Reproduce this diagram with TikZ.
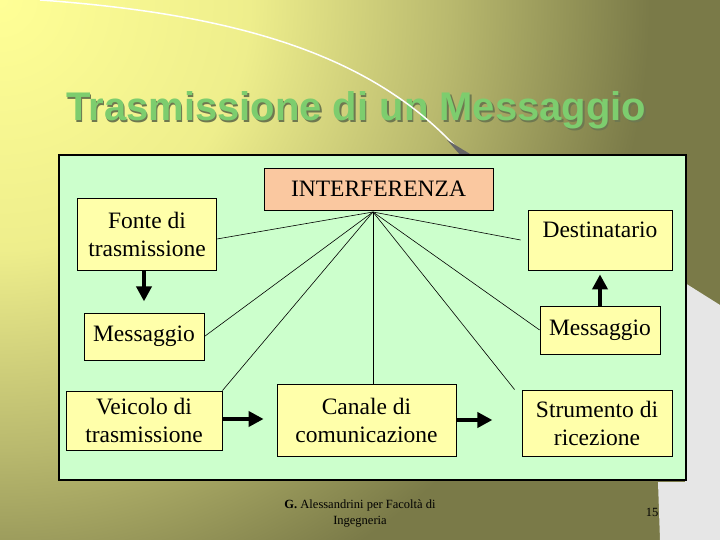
\documentclass[tikz,border=0pt]{standalone}
\usepackage{fontspec}
\setmainfont{Liberation Serif}
\newfontfamily\titlefont{Liberation Sans}
\usetikzlibrary{arrows.meta,calc}
\definecolor{bgA}{RGB}{255,255,150}
\definecolor{bgB}{RGB}{238,238,140}
\definecolor{bgC}{RGB}{185,185,110}
\definecolor{bgD}{RGB}{122,122,72}
\definecolor{panelG}{RGB}{204,255,204}
\definecolor{boxY}{RGB}{255,255,170}
\definecolor{peach}{RGB}{250,200,160}
\definecolor{titleG}{RGB}{125,205,110}
\definecolor{titleS}{RGB}{110,120,80}
\definecolor{sideG}{RGB}{230,230,230}
\pgfdeclareradialshading{bgshade}{\pgfpoint{0bp}{0bp}}{color(0bp)=(bgA); color(6.25bp)=(bgB); color(11.25bp)=(bgC); color(16.25bp)=(bgD); color(50bp)=(bgD)}
\tikzset{
  box/.style={draw=black, line width=0.8pt, fill=boxY, align=center, inner sep=0pt,
    font=\fontsize{23.5}{28}\selectfont},
  link/.style={draw=black, line width=0.6pt},
  bigarrow/.style={draw=black, line width=4pt, -{Triangle[length=15pt,width=15pt]}}
}
\begin{document}
\begin{tikzpicture}[x=1pt,y=-1pt]
\useasboundingbox (0,0) rectangle (720,540);
\begin{scope}
  \clip (0,0) rectangle (720,540);
  \shade[shading=bgshade] (0,0) circle (1000pt);
\end{scope}
% grey side region
\fill[sideG] (685,283) -- (720,305) -- (720,540) -- (660,540) -- (658,482) -- (685,482) -- cycle;
% title
\node[anchor=base west, inner sep=0pt, text=titleS, font=\titlefont\bfseries\fontsize{40}{44}\selectfont] (titleshadow) at (67.5,122.5) {Trasmissione di un Messaggio};
\node[anchor=base west, inner sep=0pt, text=titleG, font=\titlefont\bfseries\fontsize{40}{44}\selectfont] (title) at (66,121) {Trasmissione di un Messaggio};
% arc
\draw[white, line width=1.5pt] (40,0) .. controls (250,15) and (380,60) .. (463,155);
\fill[gray!80!black] (447,140) -- (475,157) -- (462,157) -- cycle;
% panel
\node[draw=black, line width=1.2pt, fill=panelG, minimum width=627pt, minimum height=325pt, inner sep=0pt] (panel) at (372.5,317.5) {};
% boxes
\node[box, fill=peach, minimum width=229pt, minimum height=42pt] (interf) at (378.5,189) {INTERFERENZA};
\node[box, minimum width=139pt, minimum height=72pt] (fonte) at (147,234) {Fonte di\\trasmissione};
\node[box, minimum width=144pt, minimum height=60pt] (dest) at (600,240) {Destinatario\\[-16pt]\strut};
\node[box, minimum width=120pt, minimum height=47pt] (msgL) at (144,336.5) {Messaggio};
\node[box, minimum width=120pt, minimum height=48pt] (msgR) at (600,330) {Messaggio};
\node[box, minimum width=156pt, minimum height=59pt] (veic) at (144,420.5) {Veicolo di\\trasmissione};
\node[box, minimum width=179pt, minimum height=72pt] (canale) at (366.5,420) {Canale di\\comunicazione};
\node[box, minimum width=150pt, minimum height=66pt] (strum) at (597,423) {Strumento di\\ricezione};
% hub and links
\coordinate (hub) at (373,212);
\draw[link] (hub) -- ($(fonte.east)+(0,5)$);
\draw[link] (hub) -- ($(dest.west)+(-7,0)$);
\draw[link] (hub) -- (msgL.east);
\draw[link] (hub) -- (msgR.west);
\draw[link] (hub) -- (veic.north east);
\draw[link] (hub) -- (hub |- canale.north);
\draw[link] (hub) -- ($(strum.north west)+(-7,0)$);
% arrows
\coordinate (fontetip) at ($(fonte.south)+(-3,31)$);
\draw[bigarrow] (fonte.south -| fontetip) -- (fontetip);
\coordinate (desttip) at ($(dest.south)+(0,4)$);
\draw[bigarrow] (msgR.north) -- (desttip);
\coordinate (canaletip) at ($(canale.west)+(-13,-1)$);
\draw[bigarrow] (veic.east |- canaletip) -- (canaletip);
\coordinate (strumtip) at ($(canale.east)+(36,0)$);
\draw[bigarrow] (canale.east) -- (strumtip);
% footer
\node[align=center, inner sep=0pt, font=\fontsize{12.5}{16}\selectfont] (footer) at (360,513) {\textbf{G.} Alessandrini per Facoltà di\\Ingegneria};
\node[inner sep=0pt, font=\fontsize{12.5}{16}\selectfont] (pagenum) at (652,512) {15};
\end{tikzpicture}
\end{document}
